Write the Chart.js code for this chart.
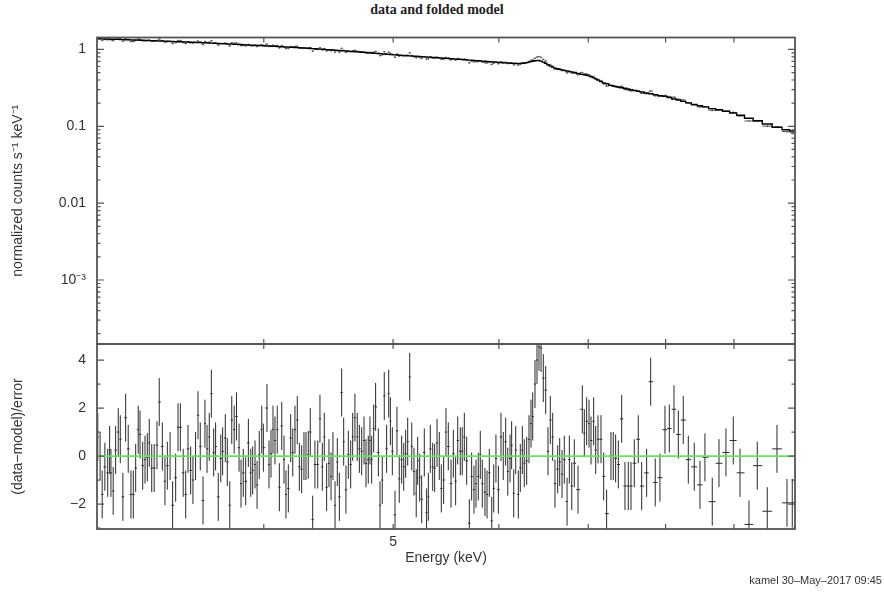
<!DOCTYPE html>
<html>
<head>
<meta charset="utf-8">
<script src="https://cdn.jsdelivr.net/npm/chart.js@4.4.1/dist/chart.umd.min.js"></script>
<style>
  html, body { margin: 0; padding: 0; background: #fff; }
  #wrap { position: relative; width: 884px; height: 594px; overflow: hidden; }
  #title { position: absolute; left: 0; top: 2px; width: 874px; text-align: center;
           font: bold 14px "Liberation Serif", "Times New Roman", serif; color: #222; }
  #stamp { position: absolute; right: 2px; top: 574px;
           font: 11px "Liberation Sans", Arial, sans-serif; color: #333; }
  #top { position: absolute; left: 0; top: 0; }
  #bot { position: absolute; left: 0; top: 340px; }
</style>
</head>
<body>
<div id="wrap">
  <div id="title">data and folded model</div>
  <canvas id="top" width="884" height="348" style="width:884px;height:348px"></canvas>
  <canvas id="bot" width="884" height="254" style="width:884px;height:254px"></canvas>
  <div id="stamp">kamel 30–May–2017 09:45</div>
</div>
<script>
// Spectral bins: centre energy (keV)
const energy = [
  3.004,3.016,3.027,3.041,3.056,3.066,3.073,3.085,3.098,3.112,3.123,3.137,3.152,3.166,3.181,3.194,3.207,3.221,3.231,3.246,
  3.259,3.272,3.283,3.297,3.311,3.327,3.340,3.358,3.373,3.387,3.403,3.418,3.436,3.450,3.464,3.481,3.496,3.510,3.526,3.540,
  3.556,3.571,3.585,3.602,3.614,3.627,3.641,3.654,3.669,3.681,3.698,3.714,3.726,3.743,3.756,3.772,3.785,3.801,3.816,3.833,
  3.846,3.861,3.877,3.895,3.911,3.924,3.940,3.954,3.969,3.986,3.997,4.022,4.036,4.050,4.064,4.078,4.094,4.109,4.126,4.142,
  4.156,4.173,4.190,4.205,4.221,4.238,4.253,4.270,4.287,4.302,4.319,4.334,4.352,4.369,4.390,4.407,4.425,4.440,4.458,4.476,
  4.492,4.507,4.523,4.541,4.557,4.575,4.591,4.609,4.628,4.647,4.663,4.681,4.700,4.717,4.736,4.755,4.771,4.790,4.804,4.818,
  4.835,4.851,4.874,4.888,4.907,4.924,4.944,4.962,4.976,4.993,5.016,5.033,5.053,5.074,5.092,5.109,5.127,5.145,5.163,5.183,
  5.203,5.216,5.234,5.252,5.276,5.297,5.313,5.331,5.353,5.371,5.393,5.414,5.433,5.455,5.477,5.499,5.525,5.547,5.569,5.589,
  5.614,5.633,5.653,5.676,5.702,5.725,5.748,5.768,5.791,5.811,5.831,5.858,5.879,5.902,5.927,5.947,5.970,5.995,6.022,6.046,
  6.071,6.093,6.117,6.134,6.156,6.177,6.205,6.226,6.248,6.269,6.295,6.320,6.342,6.361,6.386,6.408,6.430,6.453,6.478,6.505,
  6.531,6.557,6.584,6.610,6.641,6.664,6.691,6.717,6.749,6.776,6.804,6.834,6.878,6.929,6.953,6.981,7.010,7.034,7.066,7.091,
  7.119,7.156,7.189,7.226,7.280,7.309,7.339,7.373,7.416,7.458,7.501,7.536,7.579,7.631,7.676,7.742,7.796,7.858,7.922,7.991,
  8.051,8.116,8.177,8.247,8.319,8.405,8.488,8.561,8.670,8.771,8.877,8.990,9.095,9.237,9.370,9.533,9.694,9.863,9.953
];

// Folded model, normalized counts s^-1 keV^-1 per bin
const model = [
  1.380,1.377,1.373,1.369,1.365,1.362,1.360,1.357,1.353,1.350,1.347,1.343,1.339,1.335,1.331,1.327,1.324,1.320,1.318,1.314,
  1.310,1.307,1.304,1.300,1.297,1.292,1.289,1.285,1.281,1.277,1.273,1.269,1.265,1.261,1.258,1.254,1.250,1.247,1.243,1.239,
  1.235,1.232,1.229,1.224,1.220,1.217,1.213,1.209,1.205,1.201,1.197,1.192,1.189,1.184,1.181,1.176,1.173,1.168,1.164,1.160,
  1.157,1.152,1.148,1.144,1.139,1.136,1.132,1.128,1.124,1.120,1.117,1.111,1.107,1.103,1.100,1.096,1.092,1.089,1.085,1.081,
  1.077,1.073,1.069,1.066,1.061,1.057,1.054,1.049,1.044,1.039,1.034,1.030,1.025,1.020,1.014,1.009,1.004,1.000,0.995,0.990,
  0.986,0.982,0.977,0.972,0.968,0.963,0.959,0.954,0.949,0.944,0.939,0.934,0.929,0.925,0.920,0.915,0.911,0.906,0.902,0.899,
  0.894,0.890,0.885,0.881,0.876,0.872,0.867,0.862,0.859,0.855,0.849,0.846,0.842,0.838,0.835,0.832,0.828,0.825,0.822,0.818,
  0.814,0.812,0.808,0.805,0.801,0.797,0.794,0.791,0.787,0.784,0.780,0.776,0.773,0.769,0.765,0.761,0.757,0.753,0.749,0.746,
  0.742,0.738,0.735,0.731,0.727,0.723,0.719,0.716,0.712,0.709,0.705,0.701,0.698,0.694,0.690,0.687,0.683,0.679,0.675,0.672,
  0.669,0.667,0.664,0.662,0.659,0.657,0.654,0.656,0.660,0.666,0.674,0.684,0.694,0.703,0.713,0.718,0.718,0.705,0.684,0.660,
  0.629,0.607,0.589,0.572,0.560,0.552,0.542,0.534,0.524,0.517,0.510,0.501,0.488,0.474,0.468,0.461,0.453,0.442,0.427,0.414,
  0.399,0.382,0.367,0.357,0.341,0.335,0.329,0.324,0.318,0.312,0.305,0.299,0.293,0.285,0.279,0.271,0.265,0.258,0.251,0.245,
  0.236,0.227,0.220,0.211,0.202,0.192,0.185,0.179,0.170,0.164,0.157,0.149,0.139,0.127,0.118,0.107,0.097,0.090,0.087
];

// Residuals, (data - model) / error per bin
const resid = [
  0.8,0.0,-1.6,-0.45,-0.7,0.25,-0.7,-1.45,0.25,1.0,0.7,-1.7,1.6,0.3,-1.6,-1.6,-0.5,1.1,0.9,-0.4,
  -0.15,-0.05,0.55,-0.5,-0.5,0.45,2.25,0.4,-1.05,-0.4,0.0,-2.05,-0.9,1.2,1.2,-0.7,-1.6,0.3,-0.6,-1.0,
  0.0,1.7,0.4,-1.85,1.35,0.3,0.8,2.6,0.15,0.4,-1.7,-0.1,0.2,0.75,-0.25,-2.05,1.5,1.1,1.65,0.35,
  -1.15,-0.7,-1.05,0.55,-0.7,-0.6,-0.35,-1.2,0.05,1.1,0.35,2.0,-0.35,0.1,1.1,0.65,1.1,-1.3,1.25,-0.15,
  -1.6,-1.35,0.75,0.15,1.1,1.5,-0.45,-0.55,0.0,0.0,0.05,1.0,-2.65,-0.35,-0.35,1.55,-0.45,0.8,-1.3,-0.3,
  -0.85,0.0,-2.05,-0.25,-1.7,2.65,0.6,-1.4,0.05,-0.35,0.8,1.6,0.8,0.3,0.2,0.65,-0.3,-0.15,0.65,-0.15,
  1.15,2.05,0.15,-2.05,-1.0,2.5,0.3,2.6,1.45,0.2,-2.45,1.05,-0.95,-0.15,-0.45,0.1,0.6,3.3,0.4,-0.65,
  -1.55,-0.2,-0.9,-1.8,0.15,-2.35,-1.7,0.3,-0.45,-0.5,0.55,0.0,-1.35,-1.0,1.0,0.4,-1.15,0.1,-1.05,0.65,
  0.2,0.2,0.8,-0.2,-2.8,-0.85,-1.4,-1.15,-0.85,0.05,-1.15,-1.5,-1.6,-0.7,-2.7,-1.35,-0.1,-1.4,0.8,0.0,
  0.6,-0.65,-0.1,0.45,-1.55,0.25,-1.6,-0.5,0.25,-0.3,-0.2,0.7,1.35,1.65,3.0,4.0,4.55,4.5,3.25,2.75,
  0.2,1.5,0.8,-1.15,-0.55,-0.25,-0.75,-0.15,-1.9,-0.15,-1.25,-0.3,-1.4,1.95,0.95,1.45,1.35,0.65,1.45,0.25,
  0.7,0.7,-0.85,-2.4,0.0,0.0,-0.1,-0.35,1.55,-1.25,-1.25,-1.25,-0.3,0.7,-1.25,-0.7,3.1,-1.1,-0.9,1.1,
  1.15,1.95,0.9,1.5,-0.15,-0.45,-1.2,-0.05,-1.9,-0.3,0.15,0.65,-0.7,-2.85,-0.4,-2.3,0.3,-1.95,-1.95
];

// Fractional 1-sigma error of each grouped bin
const fracError = 0.027;

// Axis ranges and tick marks
const E_MIN = 3, E_MAX = 10;
const energyTicks = [4, 5, 6, 7, 8, 9];
const energyTickLabels = { 5: '5' };
const countMin = 1.47e-4, countMax = 1.43;
const countTickValues = [1, 0.1, 0.01, 0.001];
const countTickLabels = ['1', '0.1', '0.01', '10⁻³'];
const residMin = -3.04, residMax = 4.67;
const residTickValues = [4, 2, 0, -2];
const residTickLabels = ['4', '2', '0', '−2'];

const INK = '#333';
Chart.defaults.font.family = '"Liberation Sans", Arial, Helvetica, sans-serif';
Chart.defaults.color = INK;

// Bin edges halfway between neighbouring centres
function edges(i) {
  const lo = i === 0 ? E_MIN : (energy[i - 1] + energy[i]) / 2;
  const hi = i === energy.length - 1 ? E_MAX : (energy[i] + energy[i + 1]) / 2;
  return [lo, hi];
}

// Histogram of the folded model
const modelSteps = [];
// Data crosses (bin width and 1-sigma bar), broken by null gaps
const dataCrosses = [];
const residCrosses = [];
for (let i = 0; i < energy.length; i++) {
  const [lo, hi] = edges(i);
  const m = model[i];
  modelSteps.push({ x: lo, y: m }, { x: hi, y: m });
  const sigma = m * fracError;
  const d = m + resid[i] * sigma;
  dataCrosses.push({ x: lo, y: d }, { x: hi, y: d }, { x: hi, y: null },
                   { x: energy[i], y: d - sigma }, { x: energy[i], y: d + sigma }, { x: energy[i], y: null });
  const r = resid[i];
  residCrosses.push({ x: lo, y: r }, { x: hi, y: r }, { x: hi, y: null },
                    { x: energy[i], y: r - 1 }, { x: energy[i], y: r + 1 }, { x: energy[i], y: null });
}

// Frame with inward tick marks on all four sides
const framePlugin = {
  id: 'frame',
  afterDraw(chart, args, opts) {
    const { ctx, chartArea: { left, right, top, bottom }, scales } = chart;
    ctx.save();
    ctx.strokeStyle = '#555';
    ctx.lineWidth = 1.2;
    ctx.beginPath();
    for (const e of opts.xTicks) {
      const px = scales.x.getPixelForValue(e);
      ctx.moveTo(px, top); ctx.lineTo(px, top + 5);
      ctx.moveTo(px, bottom); ctx.lineTo(px, bottom - 5);
    }
    for (const t of opts.yTicks) {
      const py = scales.y.getPixelForValue(t.v);
      const len = t.major ? 7 : 3.5;
      ctx.moveTo(left, py); ctx.lineTo(left + len, py);
      ctx.moveTo(right, py); ctx.lineTo(right - len, py);
    }
    ctx.stroke();
    ctx.lineWidth = 1.8;
    ctx.strokeRect(left, top, right - left, bottom - top);
    ctx.restore();
  }
};

const countMarks = [];
for (let k = -4; k <= 0; k++) {
  for (let j = 1; j <= 9; j++) {
    const v = j * Math.pow(10, k);
    if (v >= countMin && v <= countMax) countMarks.push({ v, major: j === 1 });
  }
}
const residMarks = [];
for (let v = -3; v <= 4; v++) residMarks.push({ v, major: v % 2 === 0 });

function isNear(a, b) { return Math.abs(a - b) <= 1e-9 * Math.max(1, Math.abs(b)); }

// Fixed axis box: the plot area edges stay where the layout padding puts them
function fixBox(size) {
  return function (s) {
    if (s.isHorizontal()) s.height = size; else s.width = size;
    s.paddingTop = 0; s.paddingBottom = 0; s.paddingLeft = 0; s.paddingRight = 0;
  };
}

new Chart(document.getElementById('top'), {
  type: 'line',
  data: {
    datasets: [
      { label: 'model', data: modelSteps, borderColor: '#000', borderWidth: 1.4,
        pointRadius: 0, pointHoverRadius: 0, fill: false, tension: 0 },
      { label: 'data', data: dataCrosses, borderColor: '#555', borderWidth: 1,
        pointRadius: 0, pointHoverRadius: 0, fill: false, tension: 0, spanGaps: false }
    ]
  },
  options: {
    responsive: false, animation: false, events: [],
    layout: { autoPadding: false, padding: { left: 0, right: 89, top: 37.5, bottom: 4 } },
    plugins: {
      legend: { display: false }, tooltip: { enabled: false },
      frame: { xTicks: energyTicks, yTicks: countMarks }
    },
    scales: {
      x: { type: 'logarithmic', min: E_MIN, max: E_MAX, display: false },
      y: {
        type: 'logarithmic', min: countMin, max: countMax, position: 'left',
        afterFit: fixBox(97),
        grid: { display: false, drawTicks: false }, border: { display: false },
        ticks: {
          autoSkip: false, maxRotation: 0, padding: 11, color: INK, font: { size: 14 },
          callback(v) {
            const i = countTickValues.findIndex(t => isNear(v, t));
            return i >= 0 ? countTickLabels[i] : '';
          }
        },
        title: { display: true, text: 'normalized counts s⁻¹ keV⁻¹', color: INK,
                 font: { size: 14, lineHeight: 1.2 }, padding: { top: 10, bottom: 0 } }
      }
    }
  },
  plugins: [framePlugin]
});

new Chart(document.getElementById('bot'), {
  type: 'line',
  data: {
    datasets: [
      { label: 'zero', data: [{ x: E_MIN, y: 0 }, { x: E_MAX, y: 0 }], borderColor: '#62e462',
        borderWidth: 1.8, pointRadius: 0, pointHoverRadius: 0, fill: false },
      { label: 'residuals', data: residCrosses, borderColor: '#2a2a2a', borderWidth: 1,
        pointRadius: 0, pointHoverRadius: 0, fill: false, tension: 0, spanGaps: false }
    ]
  },
  options: {
    responsive: false, animation: false, events: [],
    layout: { autoPadding: false, padding: { left: 0, right: 89, top: 4, bottom: 0 } },
    plugins: {
      legend: { display: false }, tooltip: { enabled: false },
      frame: { xTicks: energyTicks, yTicks: residMarks }
    },
    scales: {
      x: {
        type: 'logarithmic', min: E_MIN, max: E_MAX, position: 'bottom',
        afterFit: fixBox(65),
        grid: { display: false, drawTicks: false }, border: { display: false },
        ticks: {
          autoSkip: false, maxRotation: 0, padding: 5, color: INK, font: { size: 14 },
          callback(v) { return energyTickLabels[v] || ''; }
        },
        title: { display: true, text: 'Energy (keV)', color: INK,
                 font: { size: 14, lineHeight: 1.2 }, padding: { top: 0, bottom: 27 } }
      },
      y: {
        type: 'linear', min: residMin, max: residMax, position: 'left',
        afterFit: fixBox(97),
        grid: { display: false, drawTicks: false }, border: { display: false },
        ticks: {
          stepSize: 1, includeBounds: false, autoSkip: false, padding: 11, color: INK,
          font: { size: 14 },
          callback(v) {
            const i = residTickValues.findIndex(t => isNear(v, t));
            return i >= 0 ? residTickLabels[i] : '';
          }
        },
        title: { display: true, text: '(data−model)/error', color: INK,
                 font: { size: 14, lineHeight: 1.2 }, padding: { top: 10, bottom: 0 } }
      }
    }
  },
  plugins: [framePlugin]
});
</script>
</body>
</html>
